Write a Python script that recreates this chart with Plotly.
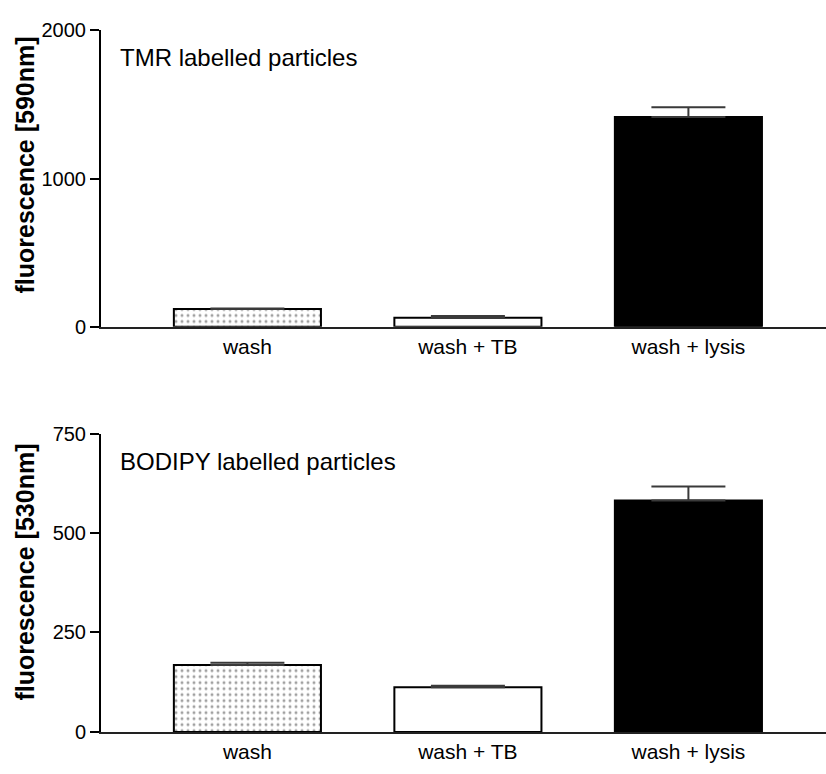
import plotly.graph_objects as go
from plotly.subplots import make_subplots

categories = ["wash", "wash + TB", "wash + lysis"]

tmr_values = [120, 60, 1415]
tmr_errors = [3, 12, 66]

bodipy_values = [168, 112, 582]
bodipy_errors = [6, 4, 35]

y_ticks_top = [0, 1000, 2000]
y_ticks_bottom = [0, 250, 500, 750]

W, H = 826, 774
FONT = "Arial, Liberation Sans, sans-serif"

fill_colors = ["white", "white", "black"]
patterns = [".", "", ""]

fig = make_subplots(rows=2, cols=1)

def add_panel(values, errors, row):
    fig.add_trace(
        go.Bar(
            x=categories,
            y=values,
            marker=dict(
                color=fill_colors,
                line=dict(color="black", width=2),
                pattern=dict(shape=patterns, fgcolor="#000000", bgcolor="#ffffff",
                             size=6, solidity=0.2, fillmode="overlay"),
            ),
            error_y=dict(type="data", array=errors, arrayminus=[0, 0, 0],
                         symmetric=False, color="#3a3a3a", thickness=2, width=37),
            showlegend=False,
        ),
        row=row, col=1,
    )

add_panel(tmr_values, tmr_errors, 1)
add_panel(bodipy_values, bodipy_errors, 2)

def px_x(p):
    return p / W

def px_y(p):
    return 1 - p / H

x_dom = [px_x(101), 1.0]
top_dom = [px_y(325), px_y(20)]
bot_dom = [px_y(742), px_y(435)]

xaxis_common = dict(
    range=[-0.664, 2.624],
    showline=True, linecolor="#222222", linewidth=2,
    ticks="", showgrid=False, zeroline=False,
    tickfont=dict(family=FONT, size=21, color="black"),
    domain=x_dom,
)
yaxis_common = dict(
    showline=True, linecolor="black", linewidth=2,
    ticks="outside", ticklen=9, tickwidth=2, tickcolor="black",
    showgrid=False, zeroline=False,
    tickfont=dict(family=FONT, size=20, color="black"),
)

fig.update_layout(
    width=W, height=H,
    margin=dict(l=0, r=0, t=0, b=0),
    paper_bgcolor="white", plot_bgcolor="white",
    bargap=0.333,
    font=dict(family=FONT, color="black"),
    xaxis=dict(**xaxis_common),
    xaxis2=dict(**xaxis_common),
    yaxis=dict(**yaxis_common, range=[0, 2000], tickvals=y_ticks_top, domain=top_dom),
    yaxis2=dict(**yaxis_common, range=[0, 750], tickvals=y_ticks_bottom, domain=bot_dom),
)

annotations = [
    dict(text="TMR labelled particles", x=px_x(118), y=px_y(48), xanchor="left", yanchor="middle",
         font=dict(family=FONT, size=24, color="black")),
    dict(text="BODIPY labelled particles", x=px_x(118), y=px_y(464), xanchor="left", yanchor="middle",
         font=dict(family=FONT, size=24, color="black")),
    dict(text="<b>fluorescence [590nm]</b>", x=px_x(25), y=px_y(159), textangle=-90,
         xanchor="center", yanchor="middle", font=dict(family=FONT, size=25, color="black")),
    dict(text="<b>fluorescence [530nm]</b>", x=px_x(25), y=px_y(578), textangle=-90,
         xanchor="center", yanchor="middle", font=dict(family=FONT, size=25, color="black")),
]
for a in annotations:
    a.update(xref="paper", yref="paper", showarrow=False)
fig.update_layout(annotations=annotations)

fig.write_html("out.html")
